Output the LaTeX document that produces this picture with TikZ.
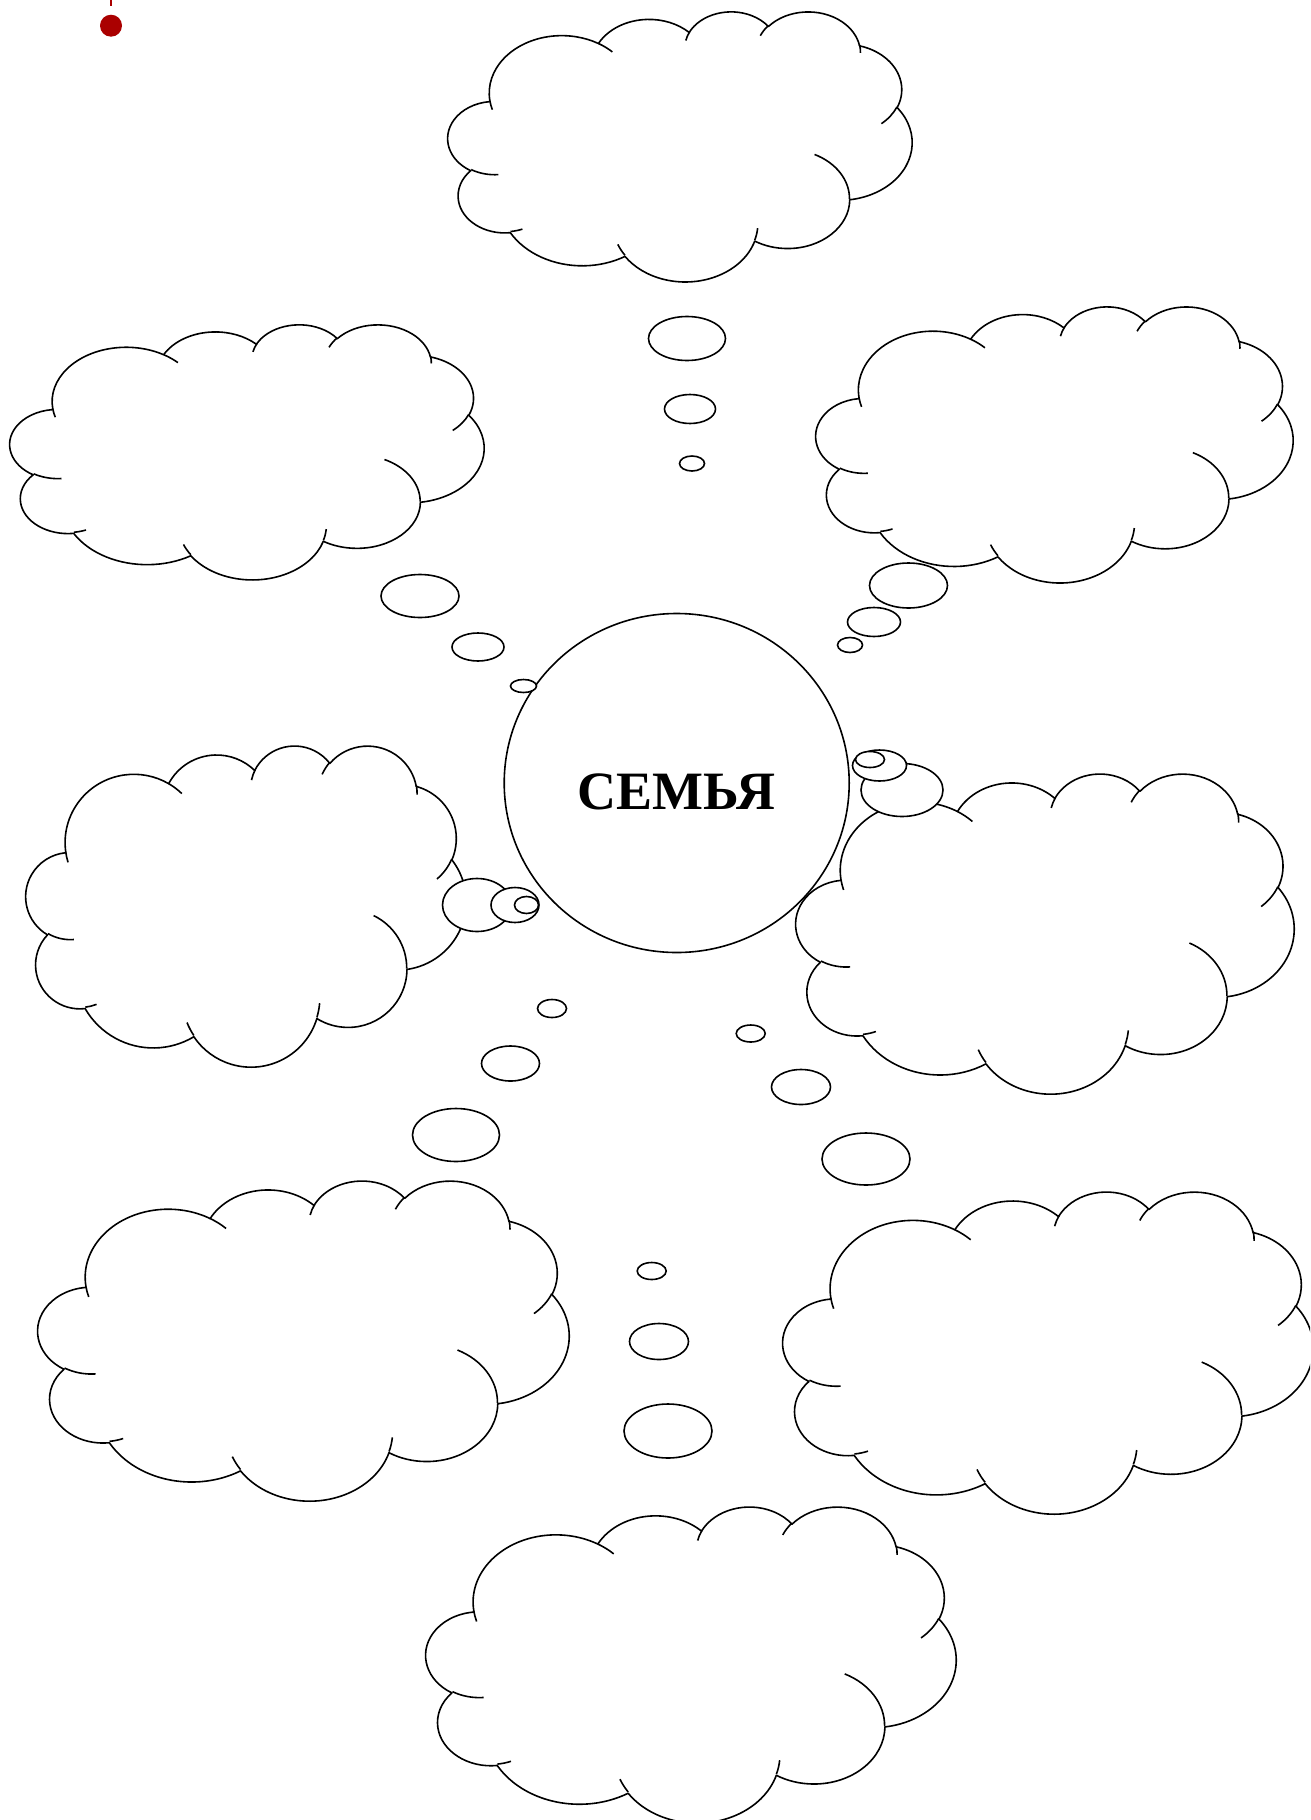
\documentclass[tikz,border=0pt]{standalone}
\usepackage{fontspec}
\setmainfont{Liberation Serif}
\usetikzlibrary{shapes.geometric}
\definecolor{dotred}{RGB}{170,0,0}
\tikzset{
  cloudline/.style={line width=1.6pt, draw=black, line join=round},
  bub/.style={ellipse, draw=black, fill=white, line width=1.6pt, inner sep=0pt, outer sep=0pt},
}
% OOXML-style arcTo: wR hR stAng swAng (visual angles, degrees)
\newcommand\oa[4]{\pgfextra{%
  \pgfmathsetmacro\oaS{atan2((#1)*sin(#3),(#2)*cos(#3))}%
  \pgfmathsetmacro\oaE{atan2((#1)*sin((#3)+(#4)),(#2)*cos((#3)+(#4)))}%
  \pgfmathsetmacro\oaD{mod(\oaE-(\oaS)+720,360)}%
  \global\let\oaS\oaS\global\let\oaD\oaD}%
  arc[x radius=#1, y radius=#2, start angle=\oaS, delta angle=\oaD]}
% cloud: name, left, top, width, height (px)
\newcommand\cloudshape[5]{%
  \coordinate (#1) at ({#2+#4/2},{#3+#5/2});
  \begin{scope}[shift={(#2,#3)}, xscale=#4/43.2, yscale=#5/43.2]
    \filldraw[cloudline, fill=white] (3.9,14.37)
      \oa{6.753}{9.19}{-190.48748}{123.78053}
      \oa{5.333}{7.267}{-144.10238}{89.94523}
      \oa{4.365}{5.945}{-145.80792}{99.72302}
      \oa{4.857}{6.595}{-130.98607}{117.24173}
      \oa{5.333}{7.273}{-78.70888}{109.02692}
      \oa{6.775}{9.22}{-46.26725}{130.269}
      \oa{5.785}{7.867}{0.62502}{114.03333}
      \oa{6.752}{9.215}{22.4516}{115.17255}
      \oa{7.72}{10.543}{66.24263}{75.71102}
      \oa{4.36}{5.918}{-274.94208}{146.73557}
      \oa{4.345}{5.945}{-246.8285}{152.51885}
      -- cycle;
    \draw[cloudline]
      (4.693,26.177) \oa{4.345}{5.945}{86.742}{26.4295}
      (6.928,34.899) \oa{4.36}{5.918}{73.61047}{11.44747}
      (16.478,39.09) \oa{6.752}{9.215}{137.62415}{14.0811}
      (28.827,34.751) \oa{6.752}{9.215}{6.45327}{15.99835}
      (34.129,22.954) \oa{5.785}{7.867}{-70.29235}{70.91737}
      (41.798,15.354) \oa{5.333}{7.273}{30.31803}{27.7515}
      (38.324,5.426) \oa{4.857}{6.595}{-13.74433}{14.8589}
      (29.078,3.952) \oa{4.857}{6.595}{-149.18145}{18.19537}
      (22.141,4.72) \oa{4.365}{5.945}{-163.49427}{17.68635}
      (14,5.192) \oa{6.753}{9.19}{-66.70695}{12.31935}
      (4.127,15.789) \oa{6.753}{9.19}{157.65435}{11.85817};
  \end{scope}}
% bubble: name, x, y, w, h
\newcommand\bubble[5]{\node[bub, minimum width=#4pt, minimum height=#5pt] (#1) at (#2,#3) {};}

\begin{document}
\begin{tikzpicture}[x=1pt, y=-1pt]
\useasboundingbox (0,0) rectangle (1310,1820);
\fill[white] (0,0) rectangle (1310,1820);
\clip (0,0) rectangle (1310,1820);

% red marker
\coordinate (rtop) at (111,0);
\node[circle, fill=dotred, inner sep=0pt, minimum size=22pt] (rdot) at (111,25.7) {};
\draw[dotred, line width=2.3pt] (rtop) -- ++(0,5.5);

% clouds
\cloudshape{ctop}{448}{11}{464}{270}
\cloudshape{cul}{10}{324}{474}{255}
\cloudshape{cur}{816}{306}{477}{276}
\cloudshape{cml}{26}{745}{440}{321}
\cloudshape{cmr}{796}{773}{498}{320}
\cloudshape{cll}{38}{1180}{531}{320}
\cloudshape{clr}{783}{1191}{530}{322}
\cloudshape{cbot}{426}{1506}{530}{316}

% centre
\node[ellipse, draw=black, fill=white, line width=1.6pt, inner sep=0pt,
      minimum width=345pt, minimum height=339pt] (centre) at (676.7,783) {};
\node[anchor=base, font=\fontsize{54pt}{60pt}\selectfont\bfseries, inner sep=0pt] (title) at (676.5,809) {СЕМЬЯ};

% thought bubbles
\bubble{tb1}{687}{338.5}{77}{44}
\bubble{tb2}{690}{409}{51}{29}
\bubble{tb3}{692}{463.5}{25}{15}

\bubble{ulb1}{420}{596}{78}{43}
\bubble{ulb2}{478}{647}{52}{28}
\bubble{ulb3}{523.5}{686}{26}{13}

\bubble{urb1}{908.5}{585.5}{78}{45}
\bubble{urb2}{874}{622}{53}{29}
\bubble{urb3}{850}{645}{25}{15}

\bubble{mlb1}{477}{905}{69}{53}
\bubble{mlb2}{515}{905}{48}{35}
\bubble{mlb3}{526.5}{905}{24}{17}

\bubble{mrb1}{902}{790}{82}{53}
\bubble{mrb2}{879.5}{765.5}{54}{31}
\bubble{mrb3}{870}{759.5}{29}{16}

\bubble{llb1}{456}{1135}{87}{53}
\bubble{llb2}{510.5}{1063.5}{58}{35}
\bubble{llb3}{552}{1008.5}{29}{18}

\bubble{lrb1}{866}{1159}{88}{52}
\bubble{lrb2}{801}{1087}{59}{35}
\bubble{lrb3}{750.7}{1033.5}{29}{17}

\bubble{bb1}{668}{1431}{88}{54}
\bubble{bb2}{659}{1341.5}{59}{36}
\bubble{bb3}{651.7}{1271}{29}{17}
\end{tikzpicture}
\end{document}
